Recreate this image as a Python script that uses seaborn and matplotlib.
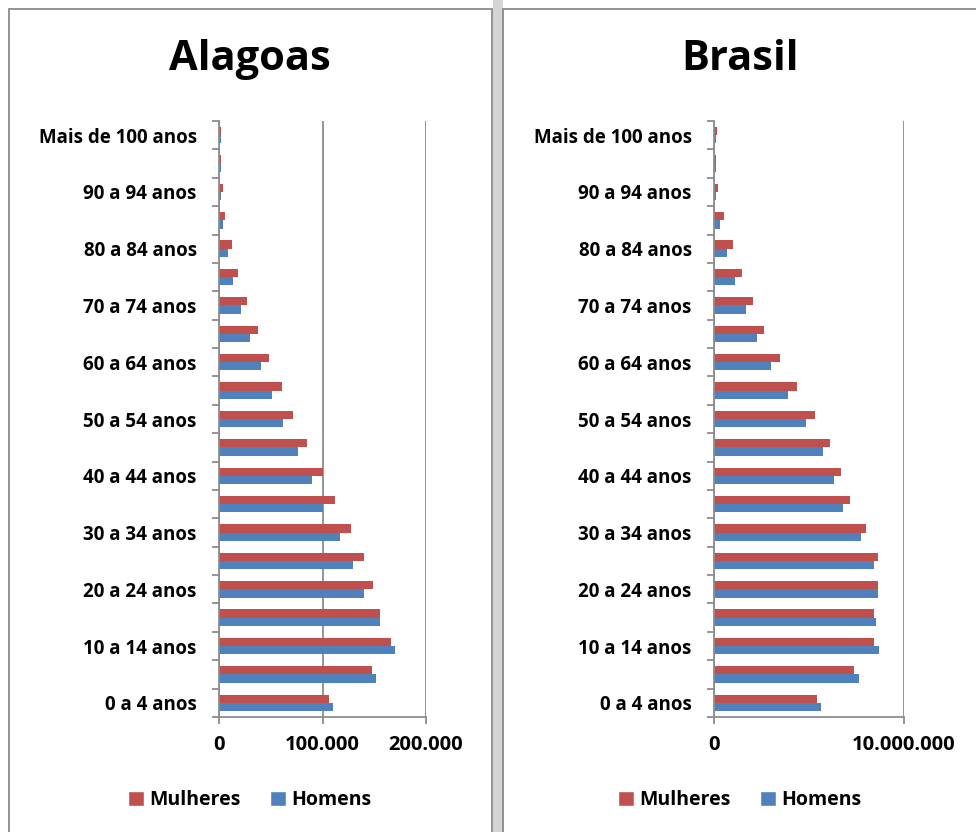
import pandas as pd
import matplotlib.pyplot as plt
import seaborn as sns
from matplotlib.patches import Rectangle, Patch
from matplotlib.ticker import FuncFormatter, MultipleLocator

# ─── Dados (faixas de cima para baixo) ───
FAIXAS = [
    "Mais de 100 anos", "95 a 99 anos", "90 a 94 anos", "85 a 89 anos",
    "80 a 84 anos", "75 a 79 anos", "70 a 74 anos", "65 a 69 anos",
    "60 a 64 anos", "55 a 59 anos", "50 a 54 anos", "45 a 49 anos",
    "40 a 44 anos", "35 a 39 anos", "30 a 34 anos", "25 a 29 anos",
    "20 a 24 anos", "15 a 19 anos", "10 a 14 anos", "5 a 9 anos", "0 a 4 anos",
]
LABELS_VISIVEIS = FAIXAS[::2]

al_mulheres = [2000, 2000, 3900, 5800, 12600, 18000, 26800, 37400, 48000, 60600,
               71300, 85500, 100600, 111600, 127700, 140000, 149000, 155800,
               166500, 147400, 106500]
al_homens = [1800, 2000, 2000, 3900, 9000, 14000, 21300, 30300, 41000, 51600,
             62300, 76000, 90000, 100600, 117000, 129000, 140000, 155800,
             170000, 152000, 110000]

br_mulheres = [140000, 120000, 230000, 530000, 1000000, 1490000, 2050000, 2630000,
               3490000, 4350000, 5330000, 6100000, 6680000, 7160000, 8020000,
               8610000, 8610000, 8400000, 8400000, 7350000, 5420000]
br_homens = [120000, 100000, 120000, 320000, 700000, 1090000, 1670000, 2250000,
             3020000, 3880000, 4840000, 5720000, 6300000, 6770000, 7740000,
             8400000, 8610000, 8510000, 8700000, 7630000, 5610000]

SEXOS = ["Mulheres", "Homens"]
CORES = {"Mulheres": "#C0504D", "Homens": "#4F81BD"}


def monta_df(mulheres, homens):
    return pd.DataFrame({
        "faixa": FAIXAS * 2,
        "sexo": ["Mulheres"] * len(FAIXAS) + ["Homens"] * len(FAIXAS),
        "pop": mulheres + homens,
    })


def fmt_pt(x, pos):
    return f"{int(x):,}".replace(",", ".")


sns.set_style("white")
plt.rcParams["font.family"] = ["Open Sans", "DejaVu Sans"]
plt.rcParams["text.color"] = "black"
plt.rcParams["xtick.color"] = "black"
plt.rcParams["ytick.color"] = "black"

fig = plt.figure(figsize=(9.76, 8.32), dpi=100)

# molduras estilo Excel
fig.patches.append(Rectangle((9 / 976, -0.01), 483 / 976, (832 - 9) / 832 + 0.01,
                             transform=fig.transFigure, fill=False,
                             edgecolor="#8a8a8a", lw=1.3))
fig.patches.append(Rectangle((493 / 976, -0.01), 10 / 976, 1.02,
                             transform=fig.transFigure, facecolor="#d4d4d4",
                             edgecolor="none"))
fig.patches.append(Rectangle((503 / 976, -0.01), 0.6, (832 - 9) / 832 + 0.01,
                             transform=fig.transFigure, fill=False,
                             edgecolor="#8a8a8a", lw=1.3))

paineis = [
    ("Alagoas", monta_df(al_mulheres, al_homens), [219, 426], 200000, 100000, 250),
    ("Brasil", monta_df(br_mulheres, br_homens), [714, 904], 10000000, 10000000, 740),
]

for titulo, df, (x0, x1), xmax, passo, cx in paineis:
    ax = fig.add_axes([x0 / 976, 1 - 717 / 832, (x1 - x0) / 976, 596 / 832])
    sns.barplot(data=df, y="faixa", x="pop", hue="sexo", order=FAIXAS,
                hue_order=SEXOS, palette=CORES, orient="h", width=0.58,
                gap=0, saturation=1, ax=ax, legend=False, edgecolor="none")
    ax.set_xlim(0, xmax)
    ax.set_ylim(len(FAIXAS) - 0.5, -0.5)
    ax.xaxis.set_major_locator(MultipleLocator(passo))
    ax.xaxis.set_major_formatter(FuncFormatter(fmt_pt))
    ax.grid(axis="x", color="#8c8c8c", lw=1.3)
    ax.set_axisbelow(True)

    # rótulos a cada duas faixas, marcas nas divisões
    ax.set_yticks([FAIXAS.index(f) for f in LABELS_VISIVEIS])
    ax.set_yticklabels(LABELS_VISIVEIS)
    ax.set_yticks([i - 0.5 for i in range(len(FAIXAS) + 1)], minor=True)
    ax.tick_params(axis="y", which="major", length=0, pad=16, labelsize=13.5)
    ax.tick_params(axis="y", which="minor", length=5, width=1.3,
                   color="#8c8c8c", left=True)
    ax.tick_params(axis="x", length=5, width=1.3, color="#8c8c8c",
                   bottom=True, labelsize=14.5, pad=8)
    for lbl in ax.get_yticklabels() + ax.get_xticklabels():
        lbl.set_fontweight("bold")
    ax.set_xlabel("")
    ax.set_ylabel("")
    for s in ["top", "right"]:
        ax.spines[s].set_visible(False)
    for s in ["left", "bottom"]:
        ax.spines[s].set_color("#8c8c8c")
        ax.spines[s].set_linewidth(1.3)

    fig.text(cx / 976, 1 - 60 / 832, titulo, ha="center", va="center",
             fontsize=30, fontweight="bold")

    handles = [Patch(facecolor=CORES[s], label=s) for s in SEXOS]
    fig.legend(handles=handles, loc="center", ncol=2, frameon=False,
               bbox_to_anchor=(cx / 976, 1 - 800 / 832),
               prop={"size": 14, "weight": "bold"},
               handlelength=0.8, handleheight=0.8, handletextpad=0.3,
               columnspacing=1.5)

plt.savefig("out.png", dpi=100)
